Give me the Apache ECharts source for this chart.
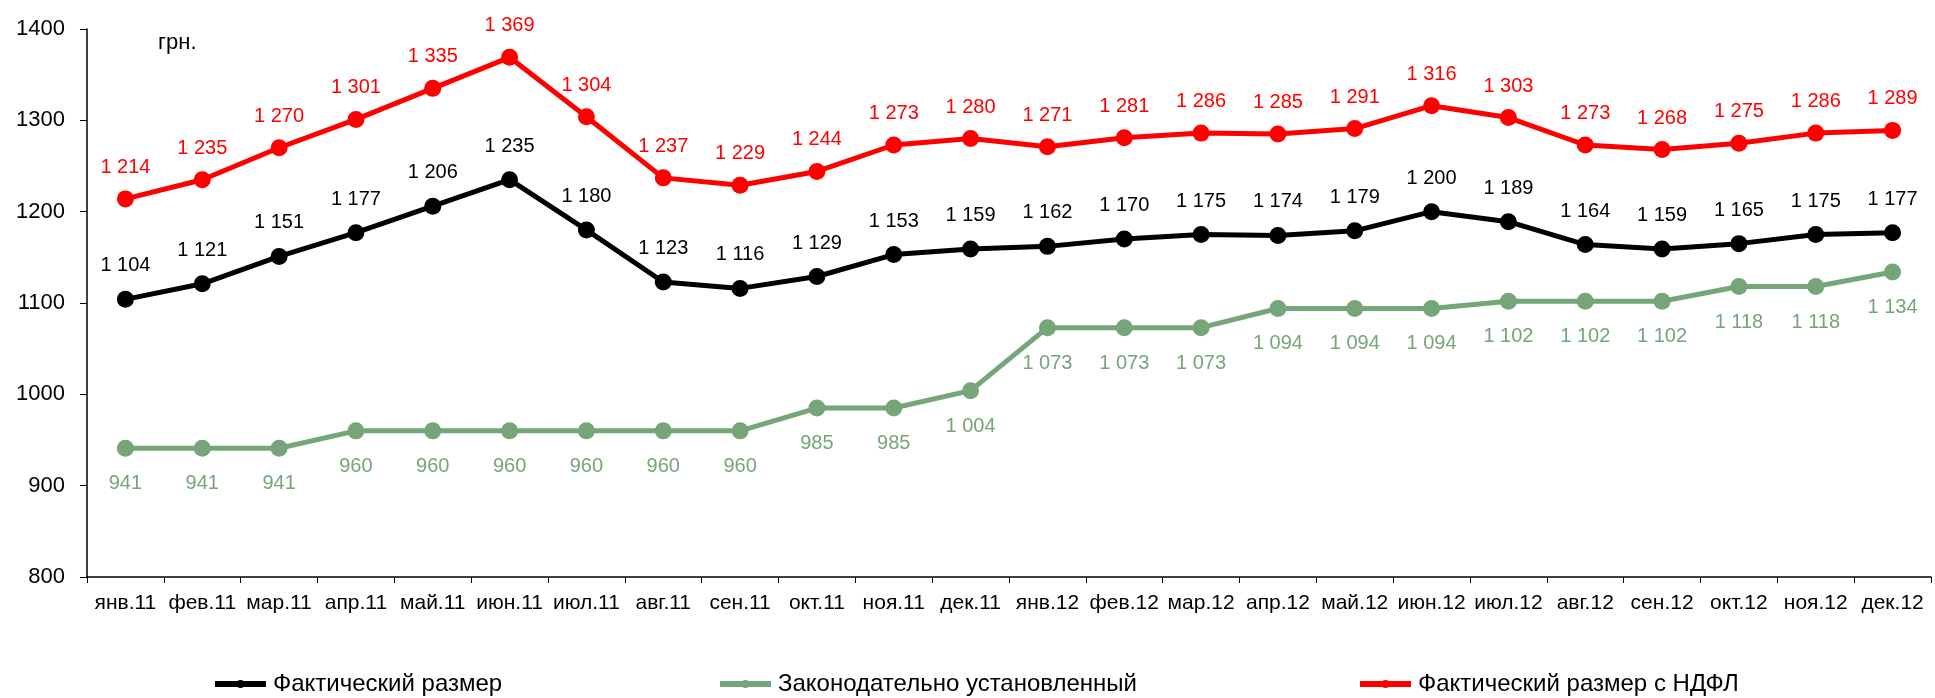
<!DOCTYPE html>
<html>
<head>
<meta charset="utf-8">
<script src="https://cdn.jsdelivr.net/npm/echarts@6/dist/echarts.min.js"></script>
<style>
	html, body { margin: 0; padding: 0; background: #fff; }
	#main { width: 1935px; height: 698px; }
</style>
</head>
<body>
<div id="main"></div>
<script>
	var months = ['янв.11', 'фев.11', 'мар.11', 'апр.11', 'май.11', 'июн.11', 'июл.11', 'авг.11', 'сен.11', 'окт.11', 'ноя.11', 'дек.11',
		'янв.12', 'фев.12', 'мар.12', 'апр.12', 'май.12', 'июн.12', 'июл.12', 'авг.12', 'сен.12', 'окт.12', 'ноя.12', 'дек.12'];
	// Фактический размер
	var factVals = [1104, 1121, 1151, 1177, 1206, 1235, 1180, 1123, 1116, 1129, 1153, 1159,
		1162, 1170, 1175, 1174, 1179, 1200, 1189, 1164, 1159, 1165, 1175, 1177];
	// Законодательно установленный
	var lawVals = [941, 941, 941, 960, 960, 960, 960, 960, 960, 985, 985, 1004,
		1073, 1073, 1073, 1094, 1094, 1094, 1102, 1102, 1102, 1118, 1118, 1134];
	// Фактический размер с НДФЛ
	var ndflVals = [1214, 1235, 1270, 1301, 1335, 1369, 1304, 1237, 1229, 1244, 1273, 1280,
		1271, 1281, 1286, 1285, 1291, 1316, 1303, 1273, 1268, 1275, 1286, 1289];
	var names = ['Фактический размер', 'Законодательно установленный', 'Фактический размер с НДФЛ'];
	var colors = ['#000000', '#76a579', '#ff0000'];

	var font = '"Liberation Sans", Arial, sans-serif';

	// 1214 -> "1 214"
	function fmt(v) {
		var s = String(v);
		return s.length > 3 ? s.slice(0, s.length - 3) + ' ' + s.slice(-3) : s;
	}

	function mkSeries(name, data, color, pos, dist) {
		return {
			name: name,
			type: 'line',
			data: data,
			symbol: 'circle',
			symbolSize: 17,
			showAllSymbol: true,
			lineStyle: { width: 5, color: color },
			itemStyle: { color: color },
			label: {
				show: true,
				position: pos,
				distance: dist,
				color: color,
				fontFamily: font,
				fontSize: 20,
				formatter: function(p) { return fmt(p.value); }
			}
		};
	}

	function mkLegend(i, left) {
		return {
			data: [names[i]],
			left: left,
			top: 672,
			padding: 0,
			itemWidth: 51,
			itemHeight: 10,
			itemGap: 0,
			lineStyle: { width: 6 },
			textStyle: { color: '#000', fontFamily: font, fontSize: 24, padding: [0, 0, 0, 2] }
		};
	}

	var myChart = echarts.init(document.getElementById('main'));
	var option = {
		animation: false,
		grid: { left: 87, right: 4, top: 29, bottom: 121, containLabel: false },
		legend: [mkLegend(0, 212), mkLegend(1, 717), mkLegend(2, 1357)],
		graphic: [{
			type: 'text',
			left: 158,
			top: 32,
			style: { text: 'грн.', fill: '#000', font: '22px ' + font }
		}],
		xAxis: {
			type: 'category',
			data: months,
			boundaryGap: true,
			axisLine: { lineStyle: { color: '#000', width: 1.5 } },
			axisTick: { show: true, length: 6, lineStyle: { color: '#000' } },
			axisLabel: { color: '#000', fontFamily: font, fontSize: 21, margin: 16, interval: 0 }
		},
		yAxis: {
			type: 'value',
			min: 800,
			max: 1400,
			interval: 100,
			splitLine: { show: false },
			axisLine: { show: true, lineStyle: { color: '#000', width: 1.5 } },
			axisTick: { show: true, length: 7, lineStyle: { color: '#000' } },
			axisLabel: {
				color: '#000', fontFamily: font, fontSize: 22, margin: 22,
				formatter: function(v) { return String(v); }
			}
		},
		series: [
			mkSeries(names[0], factVals, colors[0], 'top', 15),
			mkSeries(names[1], lawVals, colors[1], 'bottom', 17),
			mkSeries(names[2], ndflVals, colors[2], 'top', 13)
		]
	};
	myChart.setOption(option);
</script>
</body>
</html>
